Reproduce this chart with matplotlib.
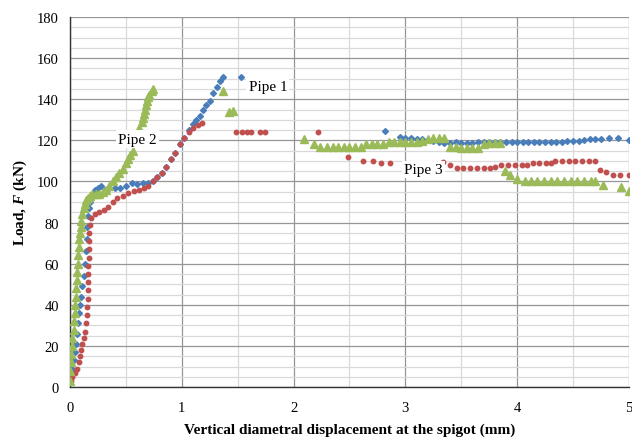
import matplotlib
matplotlib.use("Agg")
import matplotlib.pyplot as plt
from matplotlib.ticker import MultipleLocator

plt.rcParams['font.family'] = ['Liberation Serif', 'DejaVu Serif']
plt.rcParams['mathtext.fontset'] = 'custom'
plt.rcParams['mathtext.it'] = 'Liberation Serif:italic:bold'

# Pipe 1 (blue diamonds)
p1_x = [0.00, 0.01, 0.02, 0.03, 0.04, 0.05, 0.06, 0.07, 0.08, 0.09, 0.10, 0.11,
        0.12, 0.13, 0.14, 0.15, 0.15, 0.16, 0.17, 0.18, 0.20, 0.22, 0.25, 0.28,
        0.31, 0.35, 0.40, 0.45, 0.50, 0.55, 0.60, 0.65, 0.70, 0.74, 0.78, 0.82,
        0.86, 0.90, 0.94, 0.98, 1.02, 1.06, 1.10, 1.13, 1.16, 1.19, 1.22, 1.25,
        1.28, 1.31, 1.34, 1.37, 1.53,
        2.82, 2.95, 3.00, 3.05, 3.10, 3.15, 3.20, 3.25, 3.30, 3.35, 3.40, 3.45,
        3.50, 3.55, 3.60, 3.65, 3.70, 3.75, 3.80, 3.85, 3.90, 3.95, 4.00, 4.05,
        4.10, 4.15, 4.20, 4.25, 4.30, 4.35, 4.40, 4.45, 4.50, 4.55, 4.60, 4.65,
        4.70, 4.75, 4.82, 4.90, 5.00]
p1_y = [3, 6, 9, 13, 17, 21, 26, 31, 36, 40, 44, 49,
        54, 60, 66, 72, 78, 83, 87, 90, 93, 96, 97, 98,
        96, 97, 97, 97, 98, 99.5, 99, 99.5, 99.5, 100, 102, 104,
        107, 111, 114, 118, 121, 125, 128, 130, 132, 135, 137, 139,
        143, 146, 149, 151, 151,
        124.5, 121.5, 121, 121, 120.5, 120.5, 120, 119.5, 119, 118.5, 118.5, 119,
        118.5, 118.5, 118.5, 119, 119, 119, 119, 119, 119, 119, 119, 119,
        119, 119, 119, 119, 119, 119, 119, 119.5, 119.5, 119.5, 120, 120.5,
        120.5, 120.5, 121, 121, 120]

# Pipe 2 (green triangles)
p2_x = [0.00, 0.00, 0.01, 0.01, 0.02, 0.02, 0.03, 0.03, 0.04, 0.04, 0.05, 0.05,
        0.06, 0.06, 0.07, 0.07, 0.08, 0.08, 0.09, 0.10, 0.10, 0.11, 0.12, 0.13,
        0.14, 0.16, 0.18, 0.20, 0.23, 0.26, 0.29, 0.32, 0.35, 0.38, 0.41, 0.44,
        0.47, 0.50, 0.52, 0.54, 0.56, 0.62, 0.64, 0.65, 0.66, 0.67, 0.68, 0.69,
        0.70, 0.71, 0.73, 0.74, 1.37, 1.42, 1.46,
        2.09, 2.18, 2.24, 2.30, 2.35, 2.40, 2.45, 2.50, 2.55, 2.60, 2.65, 2.70,
        2.75, 2.80, 2.85, 2.90, 2.95, 3.00, 3.05, 3.10, 3.15, 3.20, 3.25, 3.30,
        3.35, 3.40, 3.45, 3.50, 3.55, 3.60, 3.65, 3.70, 3.75, 3.80, 3.85, 3.89,
        3.94, 4.00, 4.07, 4.12, 4.18, 4.24, 4.30, 4.36, 4.42, 4.48, 4.54, 4.60,
        4.66, 4.70, 4.77, 4.93, 5.00]
p2_y = [3, 8, 12, 16, 20, 24, 28, 32, 36, 40, 44, 48,
        52, 56, 60, 64, 68, 72, 75, 78, 81, 84, 87, 89,
        91, 92, 93, 94, 94, 94, 95, 96, 98, 100, 102, 104,
        106, 109, 111, 113, 115, 126, 129, 131, 133, 135, 137, 139,
        141, 142, 144, 145, 144, 134, 134.5,
        120.5, 118, 117, 117, 117, 117, 117, 117, 117, 117, 118, 118,
        118, 118, 119, 119, 119, 119, 119, 119, 119.5, 120.5, 121, 121,
        121, 117, 117, 116.5, 116.5, 116.5, 116.5, 118, 118.5, 118.5, 118.5, 105,
        103, 101, 100, 100, 100, 100, 100, 100, 100, 100, 100, 100,
        100, 100, 98.5, 97.5, 95.5]

# Pipe 3 (red)
p3_x = [0.01, 0.02, 0.04, 0.06, 0.08, 0.09, 0.10, 0.11, 0.12, 0.13, 0.14, 0.15,
        0.15, 0.16, 0.16, 0.16, 0.16, 0.16, 0.17, 0.17, 0.17, 0.17, 0.18, 0.19,
        0.22, 0.26, 0.30, 0.34, 0.38, 0.42, 0.47, 0.52, 0.57, 0.62, 0.66, 0.70,
        0.74, 0.78, 0.82, 0.86, 0.90, 0.94, 0.98, 1.02, 1.06, 1.10, 1.14, 1.18,
        1.48, 1.54, 1.58, 1.62, 1.70, 1.74, 2.22, 2.49, 2.62, 2.71, 2.78, 2.86,
        3.34, 3.40, 3.46, 3.52, 3.58, 3.64, 3.70, 3.76, 3.80, 3.86, 3.92, 3.98,
        4.04, 4.09, 4.14, 4.20, 4.26, 4.30, 4.34, 4.40, 4.46, 4.52, 4.58, 4.64,
        4.70, 4.74, 4.80, 4.86, 4.92, 5.00]
p3_y = [3, 5, 7, 9, 12, 15, 18, 21, 24, 27, 31, 35,
        39, 43, 47, 51, 55, 59, 63, 67, 71, 75, 79, 82,
        84, 85, 86, 87.5, 90, 92, 93, 94.5, 95.5, 96, 97, 98,
        100, 102, 104, 107, 111, 114, 118, 121, 124, 126, 127.5, 128.5,
        124, 124, 124, 124, 124, 124, 124, 112, 110, 110, 109, 109,
        109.5, 108, 106.5, 106.5, 106.5, 106.5, 106.5, 106.5, 107, 108, 108, 108,
        108, 108, 109, 109, 109, 109, 110, 110, 110, 110, 110, 110,
        110, 105.5, 104.5, 103, 103, 103]

fig = plt.figure(figsize=(6.32, 4.39), dpi=100)
ax = fig.add_axes([0.111, 0.116, 0.884, 0.843])

ax.plot(p1_x, p1_y, linestyle='none', marker='D', markersize=3.0,
        color='#4a7ebb', zorder=3)
ax.plot(p3_x, p3_y, linestyle='none', marker='o', markersize=3.2,
        color='#c0504d', zorder=3)
ax.plot(p2_x, p2_y, linestyle='none', marker='^', markersize=5.5,
        color='#9bbb59', zorder=4)

ax.set_xlim(0, 5)
ax.set_ylim(0, 180)
ax.xaxis.set_major_locator(MultipleLocator(1))
ax.xaxis.set_minor_locator(MultipleLocator(0.5))
ax.yaxis.set_major_locator(MultipleLocator(20))
ax.yaxis.set_minor_locator(MultipleLocator(5))
ax.grid(True, which='major', color='#969696', linewidth=0.9)
ax.grid(True, which='minor', color='#d9d9d9', linewidth=0.9)
ax.set_axisbelow(True)
ax.tick_params(which='both', length=0, labelsize=10.5, pad=10)
ax.tick_params(axis='y', pad=8)

for side in ['top', 'right']:
    ax.spines[side].set_visible(False)
for side in ['left', 'bottom']:
    ax.spines[side].set_color('#333333')
    ax.spines[side].set_linewidth(1.0)

ax.set_xlabel('Vertical diametral displacement at the spigot (mm)',
              fontsize=11, fontweight='bold', labelpad=6)
ax.set_ylabel('Load, $F$ (kN)', fontsize=11, fontweight='bold', labelpad=6)

box = dict(facecolor='white', edgecolor='none', pad=1.5)
ax.text(1.77, 146, 'Pipe 1', fontsize=11, ha='center', va='center', bbox=box, zorder=5)
ax.text(0.6, 120.6, 'Pipe 2', fontsize=11, ha='center', va='center', bbox=box, zorder=5)
ax.text(3.16, 106, 'Pipe 3', fontsize=11, ha='center', va='center', bbox=box, zorder=5)

fig.savefig('out.png', dpi=100)
